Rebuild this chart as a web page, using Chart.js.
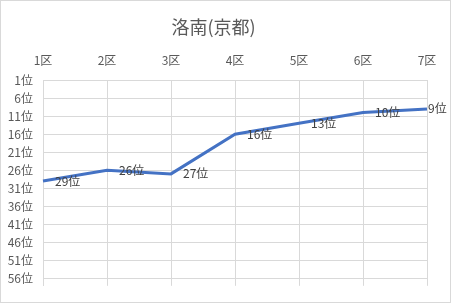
<!DOCTYPE html>
<html>
<head>
<meta charset="utf-8">
<script src="https://cdn.jsdelivr.net/npm/chart.js@4"></script>
<style>
html,body{margin:0;padding:0;background:#fff;}
#wrap{width:451px;height:303px;position:relative;}
</style>
</head>
<body>
<div id="wrap"><canvas id="c" width="451" height="303"></canvas></div>
<script>
const chartTitle = '洛南(京都)';
const categories = ['1区','2区','3区','4区','5区','6区','7区'];
const ranks = [29, 26, 27, 16, 13, 10, 9];
const rankTicks = [1, 6, 11, 16, 21, 26, 31, 36, 41, 46, 51, 56];
const rankMin = 1;
const rankMax = 58;
const suffix = '位';

const FONT = '"Noto Sans CJK JP", "Noto Sans", sans-serif';

const labelPlugin = {
  id: 'pointLabels',
  afterDatasetsDraw(chart) {
    const ctx = chart.ctx;
    const meta = chart.getDatasetMeta(0);
    ctx.save();
    ctx.font = '12px ' + FONT;
    ctx.fillStyle = '#404040';
    ctx.textAlign = 'left';
    ctx.textBaseline = 'middle';
    meta.data.forEach((pt, i) => {
      const txt = ranks[i] + suffix;
      const w = ctx.measureText(txt).width;
      let x = pt.x + 12;
      if (x + w > chart.width - 2) x = pt.x + 1;
      ctx.fillText(txt, x, pt.y);
    });
    ctx.restore();
  }
};

const borderPlugin = {
  id: 'outerBorder',
  beforeDraw(chart) {
    const ctx = chart.ctx;
    ctx.save();
    ctx.fillStyle = '#ffffff';
    ctx.fillRect(0, 0, chart.width, chart.height);
    ctx.restore();
  },
  afterDraw(chart) {
    const ctx = chart.ctx;
    ctx.save();
    ctx.strokeStyle = '#d9d9d9';
    ctx.lineWidth = 1;
    ctx.strokeRect(0.5, 0.5, chart.width - 1, chart.height - 1);
    ctx.restore();
  }
};

new Chart(document.getElementById('c'), {
  type: 'line',
  data: {
    labels: categories,
    datasets: [{
      data: ranks,
      borderColor: '#4472C4',
      borderWidth: 3,
      pointRadius: 0,
      tension: 0,
      fill: false
    }]
  },
  options: {
    responsive: false,
    animation: false,
    devicePixelRatio: 1,
    layout: { padding: { left: 0, right: 24, top: 0, bottom: 17 } },
    plugins: {
      legend: { display: false },
      tooltip: { enabled: false },
      title: {
        display: true,
        text: chartTitle,
        color: '#595959',
        font: { family: FONT, size: 18, weight: 'normal' },
        padding: { top: 16, bottom: 0 }
      }
    },
    scales: {
      x: {
        type: 'category',
        position: 'top',
        offset: false,
        grid: { color: '#d9d9d9', drawTicks: false },
        border: { color: '#d9d9d9' },
        ticks: {
          color: '#595959',
          font: { family: FONT, size: 12 },
          padding: 12,
          maxRotation: 0,
          autoSkip: false
        },
        afterFit(scale) { scale.height = 80 - 37.6; }
      },
      y: {
        type: 'linear',
        reverse: true,
        min: rankMin,
        max: rankMax,
        grid: { color: '#d9d9d9', drawTicks: false },
        border: { color: '#d9d9d9' },
        ticks: {
          color: '#595959',
          font: { family: FONT, size: 12 },
          padding: 10,
          callback: (v) => v + suffix
        },
        afterBuildTicks(scale) {
          scale.ticks = rankTicks.map(v => ({ value: v }));
        },
        afterFit(scale) { scale.width = 43; }
      }
    }
  },
  plugins: [labelPlugin, borderPlugin]
});
</script>
</body>
</html>
